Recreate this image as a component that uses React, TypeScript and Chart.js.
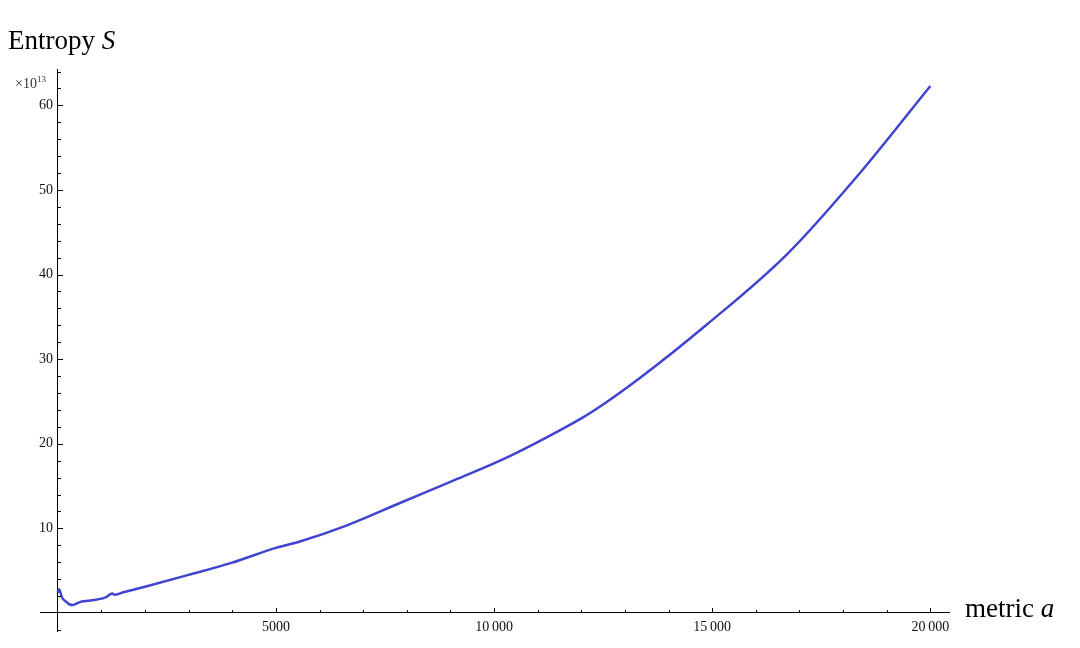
import React, { useEffect, useRef } from "react";
import { Chart, registerables } from "chart.js";

Chart.register(...registerables);

// metric a (x) and entropy S in units of 10^13 (y)
const metricA = [
  0, 30, 100, 200, 275, 350, 450, 550, 700, 900, 1100, 1250, 1300, 1500, 2000,
  3000, 4000, 5000, 5550, 6600, 7844, 9000, 10138, 11000, 12000, 12431, 13349,
  14878, 16713, 18318, 20000,
];
const entropyS = [
  2.4, 2.8, 1.8, 1.3, 1.0, 0.95, 1.15, 1.35, 1.45, 1.6, 1.85, 2.3, 2.15, 2.45,
  3.1, 4.5, 5.95, 7.7, 8.45, 10.3, 13.0, 15.5, 18.0, 20.2, 23.0, 24.4, 27.8,
  34.1, 42.4, 51.6, 62.3,
];

const xTickValues = [5000, 10000, 15000, 20000];
const xTickLabels = ["5000", "10\u2009000", "15\u2009000", "20\u2009000"];
const yTickValues = [10, 20, 30, 40, 50, 60];
const yTickLabels = ["10", "20", "30", "40", "50", "60"];
const xMinorStep = 1000;
const yMinorStep = 2;

const X_MIN = -406;
const X_MAX = 20427;
const Y_MIN = -2.13;
const Y_MAX = 64.3;

const inwardTicks = {
  id: "inwardTicks",
  afterDraw(chart: any) {
    const { ctx, scales } = chart;
    const xs = scales.x;
    const ys = scales.y;
    const x0 = xs.getPixelForValue(0);
    const y0 = ys.getPixelForValue(0);
    ctx.save();
    ctx.strokeStyle = "#000";
    ctx.lineWidth = 1;
    ctx.beginPath();
    for (let v = xMinorStep; v <= X_MAX; v += xMinorStep) {
      const px = Math.round(xs.getPixelForValue(v)) + 0.5;
      const len = v % 5000 === 0 ? 5 : 3;
      ctx.moveTo(px, Math.round(y0));
      ctx.lineTo(px, Math.round(y0) - len);
    }
    for (let v = -2; v <= Y_MAX; v += yMinorStep) {
      if (v === 0) continue;
      const py = Math.round(ys.getPixelForValue(v)) + 0.5;
      const len = v % 10 === 0 ? 5 : 3;
      ctx.moveTo(Math.round(x0), py);
      ctx.lineTo(Math.round(x0) + len, py);
    }
    ctx.stroke();
    ctx.restore();
  },
};

export default function App() {
  const canvasRef = useRef<HTMLCanvasElement | null>(null);

  useEffect(() => {
    document.body.style.margin = "0";
    const canvas = canvasRef.current;
    if (!canvas) return;
    const chart = new Chart(canvas, {
      type: "line",
      data: {
        datasets: [
          {
            data: metricA.map((a, i) => ({ x: a, y: entropyS[i] })),
            borderColor: "#4044d0",
            borderWidth: 2.5,
            pointRadius: 0,
            cubicInterpolationMode: "monotone",
            fill: false,
          },
        ],
      },
      options: {
        animation: false,
        responsive: false,
        maintainAspectRatio: false,
        layout: { padding: { left: 40, right: 131, top: 69, bottom: 17 } },
        plugins: { legend: { display: false }, tooltip: { enabled: false } },
        scales: {
          x: {
            type: "linear",
            min: X_MIN,
            max: X_MAX,
            position: { y: 0 } as any,
            afterBuildTicks: (scale: any) => {
              scale.ticks = xTickValues.map((v) => ({ value: v }));
            },
            grid: { display: false, drawTicks: false },
            border: { display: true, color: "#000", width: 1 },
            ticks: {
              autoSkip: false,
              maxRotation: 0,
              padding: 6,
              color: "#111",
              font: { family: "'Liberation Serif', 'Times New Roman', serif", size: 14 },
              callback: (v: any) => {
                const i = xTickValues.indexOf(Number(v));
                return i >= 0 ? xTickLabels[i] : "";
              },
            },
          },
          y: {
            type: "linear",
            min: Y_MIN,
            max: Y_MAX,
            position: { x: 0 } as any,
            afterBuildTicks: (scale: any) => {
              scale.ticks = yTickValues.map((v) => ({ value: v }));
            },
            grid: { display: false, drawTicks: false },
            border: { display: true, color: "#000", width: 1 },
            ticks: {
              autoSkip: false,
              padding: 6,
              color: "#111",
              font: { family: "'Liberation Serif', 'Times New Roman', serif", size: 14 },
              callback: (v: any) => {
                const i = yTickValues.indexOf(Number(v));
                // trailing spaces keep the right-aligned label clear of the axis line
                return i >= 0 ? yTickLabels[i] + "\u2005\u200A" : "";
              },
            },
          },
        },
      },
      plugins: [inwardTicks],
    });
    return () => chart.destroy();
  }, []);

  const serif = "'Liberation Serif', 'Times New Roman', serif";
  return (
    <div style={{ position: "relative", width: 1080, height: 648, fontFamily: serif }}>
      <canvas ref={canvasRef} width={1080} height={648} style={{ display: "block" }} />
      <div
        style={{
          position: "absolute",
          left: 8,
          top: 25,
          fontSize: 27,
          lineHeight: "30px",
          color: "#000",
          whiteSpace: "nowrap",
        }}
      >
        Entropy <i>S</i>
      </div>
      <div
        style={{
          position: "absolute",
          left: 965,
          top: 593,
          fontSize: 27,
          lineHeight: "30px",
          color: "#000",
          whiteSpace: "nowrap",
        }}
      >
        metric <i>a</i>
      </div>
      <div
        style={{
          position: "absolute",
          left: 15,
          top: 77,
          fontSize: 14,
          lineHeight: "14px",
          color: "#333",
          whiteSpace: "nowrap",
        }}
      >
        ×10
        <span style={{ fontSize: 9, position: "relative", top: -6 }}>13</span>
      </div>
    </div>
  );
}
